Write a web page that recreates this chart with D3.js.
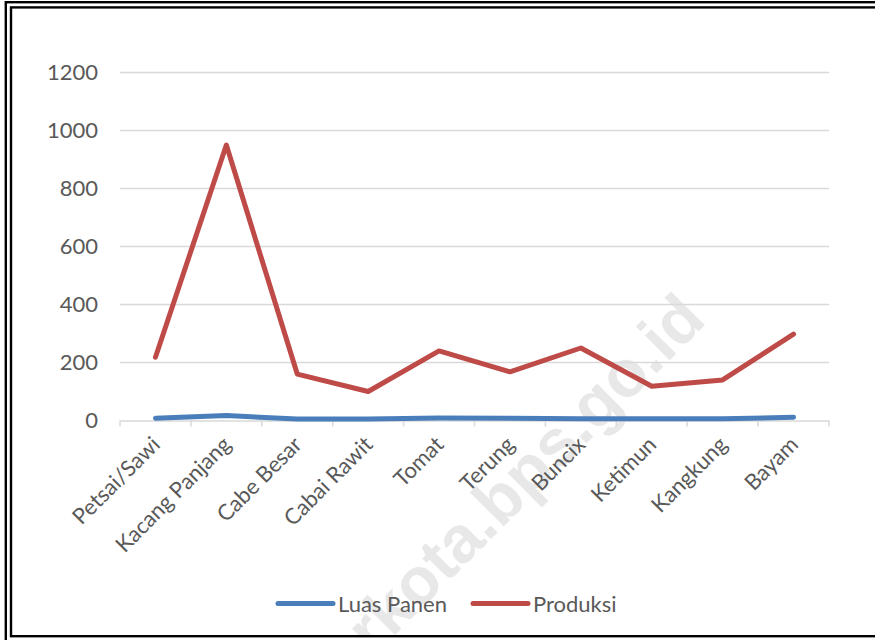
<!DOCTYPE html>
<html>
<head>
<meta charset="utf-8">
<script src="https://cdn.jsdelivr.net/npm/d3@7"></script>
<style>
  html, body { margin: 0; padding: 0; background: #fff; }
  svg { display: block; }
</style>
</head>
<body>
<svg id="chart" width="875" height="640"></svg>
<script>
// Vegetable crops: harvested area and production
const categories = ["Petsai/Sawi", "Kacang Panjang", "Cabe Besar", "Cabai Rawit", "Tomat",
                    "Terung", "Buncix", "Ketimun", "Kangkung", "Bayam"];
const luasPanen = [8, 17, 5, 5, 9, 8, 6, 6, 6, 11];
const produksi  = [218, 950, 160, 100, 240, 168, 250, 118, 140, 298];
const yTicks = [0, 200, 400, 600, 800, 1000, 1200];
const seriesNames = ["Luas Panen", "Produksi"];
const seriesColors = ["#4a7ebb", "#be4b48"];

const W = 875, H = 640;
const plot = { left: 120, right: 829, top: 72.5, bottom: 420.5 };
const FONT = "Lato, 'Open Sans', sans-serif";
const FS = 22;
const TEXT = "#595959";

const svg = d3.select("#chart");

// faint site watermark behind the chart, clipped to the inner frame
svg.append("clipPath").attr("id", "frameClip")
  .append("rect").attr("x", 12).attr("y", 8).attr("width", 870).attr("height", 627);

svg.append("g")
  .attr("clip-path", "url(#frameClip)")
  .append("text")
  .attr("transform", "translate(708,322) rotate(-45)")
  .attr("text-anchor", "end")
  .attr("font-family", "'Liberation Sans', Arial, sans-serif")
  .attr("font-weight", "bold")
  .attr("font-size", 66)
  .attr("fill", "#e8e8e8")
  .text("rkota.bps.go.id");

const x = d3.scaleBand().domain(categories).range([plot.left, plot.right]);
const y = d3.scaleLinear().domain([0, 1200]).range([plot.bottom, plot.top]);

// horizontal gridlines
svg.append("g")
  .selectAll("line")
  .data(yTicks.filter(d => d !== 0))
  .join("line")
  .attr("x1", plot.left).attr("x2", plot.right)
  .attr("y1", d => y(d)).attr("y2", d => y(d))
  .attr("stroke", "#d9d9d9").attr("stroke-width", 1.5);

// y axis labels
const yAxis = svg.append("g")
  .attr("transform", `translate(${plot.left},0)`)
  .call(d3.axisLeft(y).tickValues(yTicks).tickFormat(d3.format("d")).tickSize(0).tickPadding(22));
yAxis.select(".domain").remove();
yAxis.selectAll("text")
  .attr("font-family", FONT).attr("font-size", FS).attr("fill", TEXT);

// category axis with tick marks between categories
const xAxis = svg.append("g")
  .attr("transform", `translate(0,${plot.bottom})`)
  .call(d3.axisBottom(x).tickSize(0).tickFormat(""));
xAxis.select(".domain")
  .attr("stroke", "#d9d9d9").attr("stroke-width", 1.5);
xAxis.selectAll(".tick").remove();

const edges = categories.map(c => x(c)).concat([plot.right]);
svg.append("g")
  .selectAll("line")
  .data(edges)
  .join("line")
  .attr("x1", d => d).attr("x2", d => d)
  .attr("y1", plot.bottom).attr("y2", plot.bottom + 6)
  .attr("stroke", "#d9d9d9").attr("stroke-width", 1.5);

// rotated category labels
svg.append("g")
  .selectAll("text")
  .data(categories)
  .join("text")
  .attr("transform", d => `translate(${x(d) + x.bandwidth() / 2 + 6},446) rotate(-45)`)
  .attr("text-anchor", "end")
  .attr("font-family", FONT).attr("font-size", FS).attr("fill", TEXT)
  .text(d => d);

// series lines
const line = d3.line()
  .x((d, i) => x(categories[i]) + x.bandwidth() / 2)
  .y(d => y(d));

[luasPanen, produksi].forEach((vals, k) => {
  svg.append("path")
    .datum(vals)
    .attr("d", line)
    .attr("fill", "none")
    .attr("stroke", seriesColors[k])
    .attr("stroke-width", 5)
    .attr("stroke-linejoin", "round")
    .attr("stroke-linecap", "round");
});

// legend
const legendItems = [
  { name: seriesNames[0], color: seriesColors[0], x0: 278 },
  { name: seriesNames[1], color: seriesColors[1], x0: 473 }
];
const lg = svg.append("g");
legendItems.forEach(it => {
  lg.append("line")
    .attr("x1", it.x0).attr("x2", it.x0 + 55)
    .attr("y1", 603.5).attr("y2", 603.5)
    .attr("stroke", it.color).attr("stroke-width", 5)
    .attr("stroke-linecap", "round");
  lg.append("text")
    .attr("x", it.x0 + 60).attr("y", 611.5)
    .attr("font-family", FONT).attr("font-size", FS).attr("fill", TEXT)
    .text(it.name);
});

// double frame around the chart
svg.append("rect")
  .attr("x", 5.8).attr("y", 2.2).attr("width", 900).attr("height", 700)
  .attr("fill", "none").attr("stroke", "#000").attr("stroke-width", 2.4);
svg.append("rect")
  .attr("x", 11).attr("y", 7.4).attr("width", 900).attr("height", 628.8)
  .attr("fill", "none").attr("stroke", "#000").attr("stroke-width", 2.4);
</script>
</body>
</html>
